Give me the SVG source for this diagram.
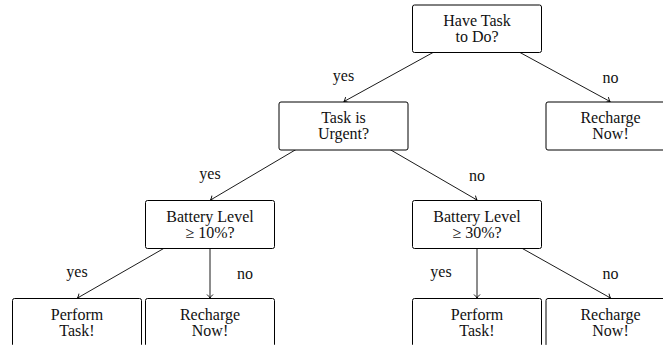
<svg xmlns="http://www.w3.org/2000/svg" width="663" height="345" viewBox="0 0 663 345">
<style>
.box{fill:#fff;stroke:#000;stroke-width:1}
.t{font-family:"Liberation Serif","Times New Roman",serif;font-size:16px;fill:#111;text-anchor:middle}
.edge{stroke:#000;stroke-width:0.9;fill:none;marker-end:url(#arr)}
</style>
<defs>
<marker id="arr" markerWidth="10" markerHeight="10" refX="0" refY="0" viewBox="-5 -5 10 10" markerUnits="userSpaceOnUse" orient="auto">
<path d="M-3.5,-3 Q-1.2,-0.6 0,0 Q-1.2,0.6 -3.5,3" fill="none" stroke="#000" stroke-width="0.9"/>
</marker>
</defs>
<rect width="663" height="345" fill="#fff"/>
<g id="connectors">
<path class="edge" d="M433,52.5 L344,101.5"/>
<path class="edge" d="M520,52.5 L610,101.5"/>
<path class="edge" d="M296,149.5 L210.5,200"/>
<path class="edge" d="M390,149.5 L477,200"/>
<path class="edge" d="M164.5,248 L77.5,298"/>
<path class="edge" d="M210,248 L210,298"/>
<path class="edge" d="M477,248 L477,298"/>
<path class="edge" d="M521.5,248 L610.5,298"/>
<text class="t" x="343.5" y="80.5">yes</text>
<text class="t" x="610.5" y="82.5">no</text>
<text class="t" x="210" y="178.5">yes</text>
<text class="t" x="477" y="180.5">no</text>
<text class="t" x="77" y="277">yes</text>
<text class="t" x="245" y="279">no</text>
<text class="t" x="441" y="277">yes</text>
<text class="t" x="610.5" y="279">no</text>
</g>
<g id="n-root">
<rect class="box" x="412.5" y="5" width="129" height="47.5" rx="2"/>
<text class="t" x="477" y="26">Have Task</text>
<text class="t" x="477" y="42.3">to Do?</text>
</g>
<g id="n-urgent">
<rect class="box" x="279" y="102" width="129" height="48" rx="2"/>
<text class="t" x="343.5" y="123">Task is</text>
<text class="t" x="343.5" y="139.3">Urgent?</text>
</g>
<g id="n-recharge-top">
<rect class="box" x="546" y="102" width="129" height="48" rx="2"/>
<text class="t" x="610.5" y="123">Recharge</text>
<text class="t" x="610.5" y="139.3">Now!</text>
</g>
<g id="n-battery10">
<rect class="box" x="145.5" y="200.5" width="129" height="48" rx="2"/>
<text class="t" x="210" y="222">Battery Level</text>
<text class="t" x="210" y="237.8">≥ 10%?</text>
</g>
<g id="n-battery30">
<rect class="box" x="412.5" y="200.5" width="129" height="48" rx="2"/>
<text class="t" x="477" y="222">Battery Level</text>
<text class="t" x="477" y="237.8">≥ 30%?</text>
</g>
<g id="n-perform-left">
<rect class="box" x="12.5" y="298.5" width="129" height="48" rx="2"/>
<text class="t" x="77" y="320">Perform</text>
<text class="t" x="77" y="336.3">Task!</text>
</g>
<g id="n-recharge-left">
<rect class="box" x="145.5" y="298.5" width="129" height="48" rx="2"/>
<text class="t" x="210" y="320">Recharge</text>
<text class="t" x="210" y="336.3">Now!</text>
</g>
<g id="n-perform-right">
<rect class="box" x="412.5" y="298.5" width="129" height="48" rx="2"/>
<text class="t" x="477" y="320">Perform</text>
<text class="t" x="477" y="336.3">Task!</text>
</g>
<g id="n-recharge-right">
<rect class="box" x="546" y="298.5" width="129" height="48" rx="2"/>
<text class="t" x="610.5" y="320">Recharge</text>
<text class="t" x="610.5" y="336.3">Now!</text>
</g>
</svg>
